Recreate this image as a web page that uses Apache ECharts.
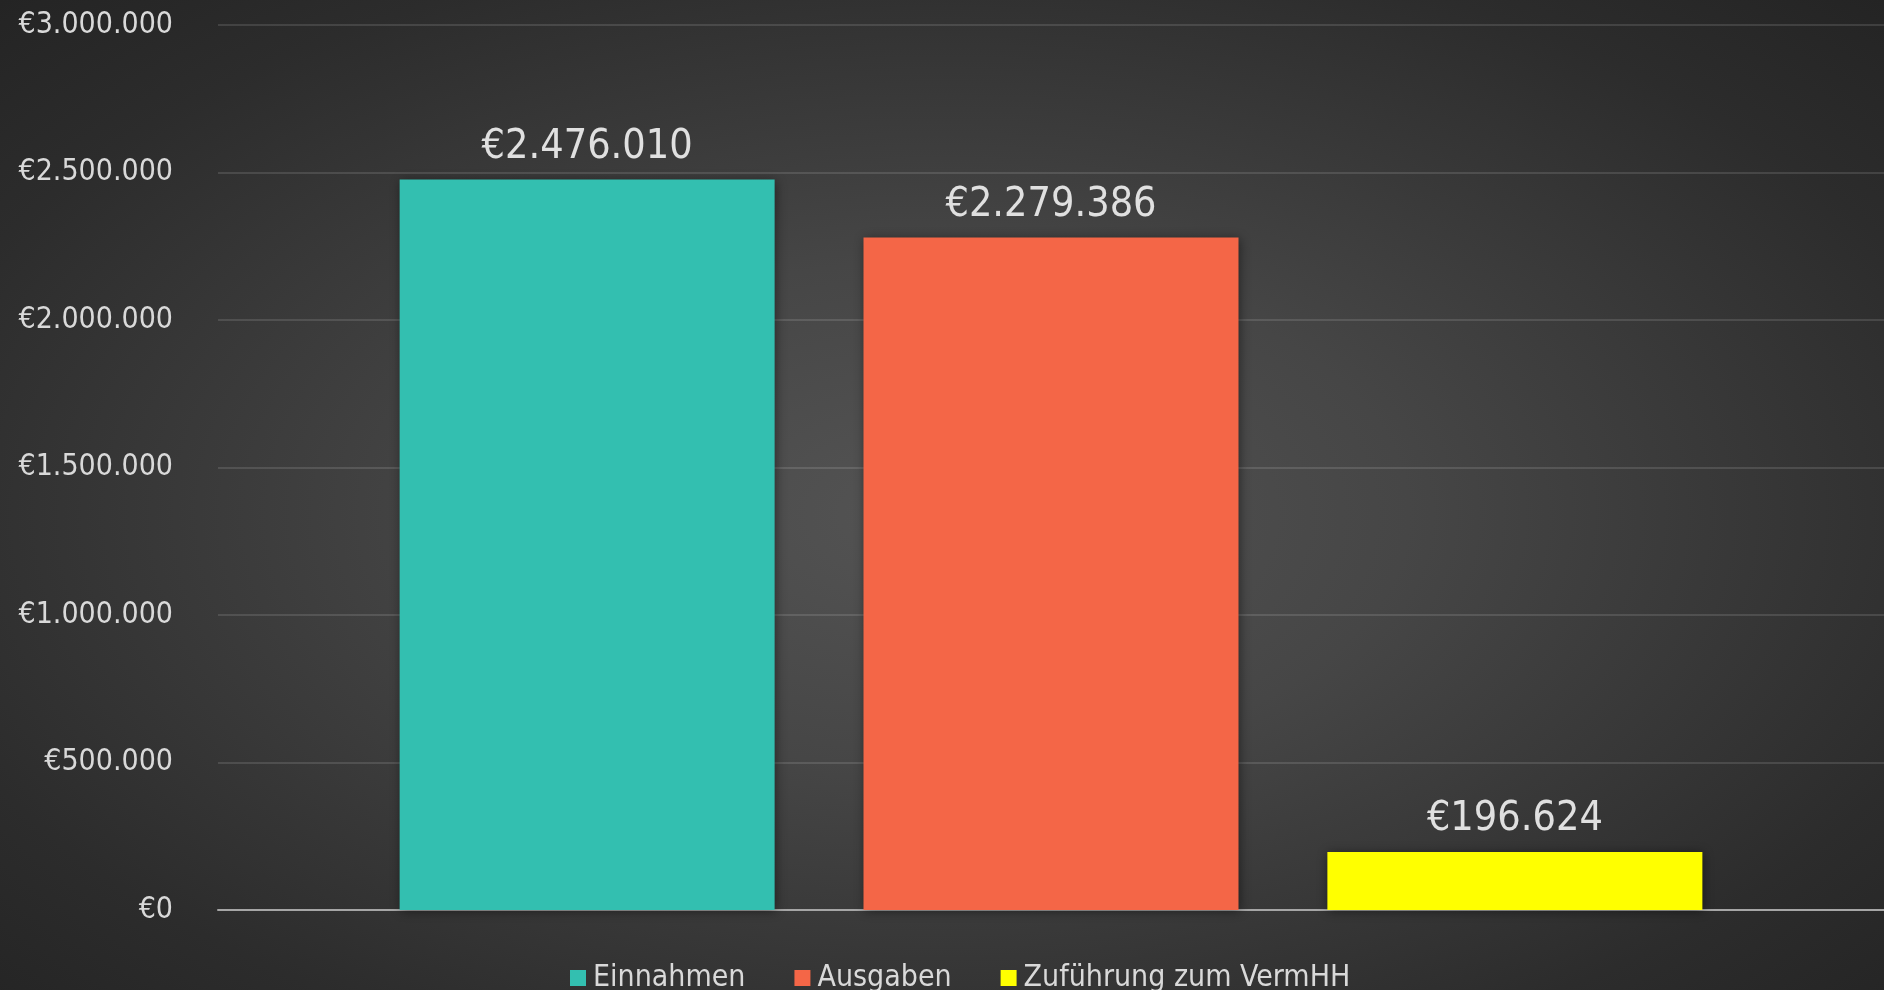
<!DOCTYPE html>
<html>
<head>
<meta charset="utf-8">
<script src="https://cdn.jsdelivr.net/npm/echarts@6/dist/echarts.min.js"></script>
<style>
html,body{margin:0;padding:0;width:1884px;height:990px;overflow:hidden;}
body{background:radial-gradient(ellipse farthest-corner at 50% 52%, #545454 0%, #464646 35%, #2c2c2c 80%, #242424 100%);}
#c{width:1884px;height:990px;}
</style>
</head>
<body>
<div id="c"></div>
<script>
const categories = [''];
const seriesNames = ['Einnahmen', 'Ausgaben', 'Zuführung zum VermHH'];
const seriesValues = [2476010, 2279386, 196624];
const seriesColors = ['#33BFB0', '#F46647', '#FFFF00'];
const yTicks = [0, 500000, 1000000, 1500000, 2000000, 2500000, 3000000];

function euro(v) {
  return '€' + String(Math.round(v)).replace(/\B(?=(\d{3})+(?!\d))/g, '.');
}

const FONT = '"DejaVu Sans Condensed", "DejaVu Sans", sans-serif';
const chart = echarts.init(document.getElementById('c'));
chart.setOption({
  backgroundColor: 'transparent',
  animation: false,
  textStyle: { fontFamily: FONT },
  grid: { left: 218, right: 0, top: 25, bottom: 80, containLabel: false },
  legend: {
    left: 565, top: 958,
    itemWidth: 16, itemHeight: 16, itemGap: 49,
    icon: 'rect',
    textStyle: { color: '#d9d9d9', fontSize: 30, fontFamily: FONT, padding: [0, 0, 0, 2] },
    data: seriesNames
  },
  xAxis: {
    type: 'category',
    data: categories,
    axisLine: { lineStyle: { color: '#a6a6a6', width: 2 } },
    axisTick: { show: false },
    axisLabel: { show: false }
  },
  yAxis: {
    type: 'value',
    min: yTicks[0], max: yTicks[yTicks.length - 1], interval: yTicks[1] - yTicks[0],
    axisLine: { show: false },
    axisTick: { show: false },
    axisLabel: { color: '#d9d9d9', fontSize: 30, fontFamily: FONT, margin: 45, formatter: euro },
    splitLine: { lineStyle: { color: 'rgba(255,255,255,0.12)', width: 2 } }
  },
  series: seriesNames.map((name, i) => ({
    name: name,
    type: 'bar',
    barWidth: 375,
    barGap: '23.7%',
    data: [seriesValues[i]],
    itemStyle: {
      color: seriesColors[i],
      shadowBlur: 10, shadowColor: 'rgba(0,0,0,0.45)', shadowOffsetX: 1, shadowOffsetY: 1
    },
    label: {
      show: true, position: 'top', distance: 12,
      color: '#e0e0e0', fontSize: 41, fontFamily: FONT,
      formatter: p => euro(p.value)
    }
  }))
});
</script>
</body>
</html>
